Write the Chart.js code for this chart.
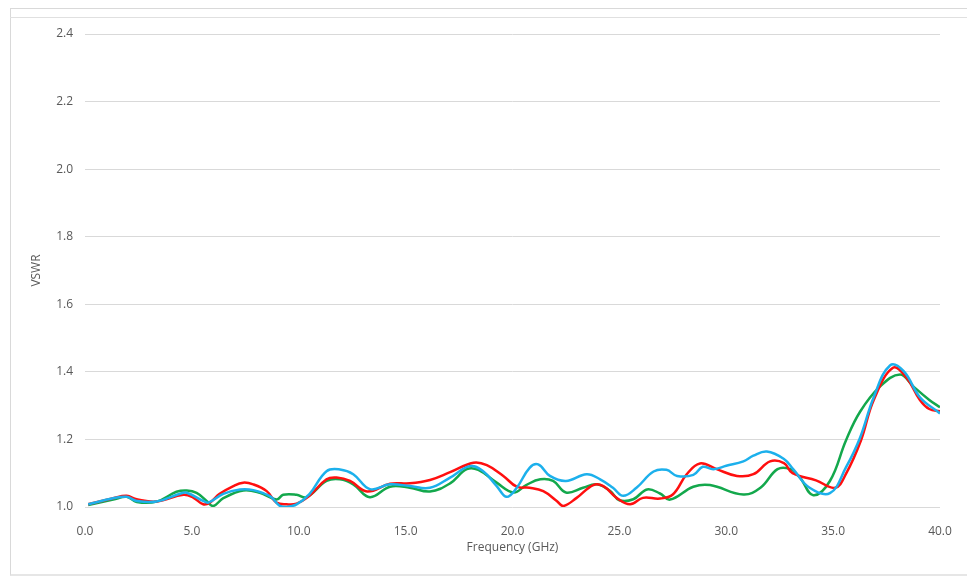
<!DOCTYPE html>
<html>
<head>
<meta charset="utf-8">
<script src="https://cdn.jsdelivr.net/npm/chart.js@4.4.1/dist/chart.umd.min.js"></script>
<style>
  html, body { margin: 0; padding: 0; background: #fff; }
  #frame { position: absolute; left: 10px; top: 8px; width: 970px; height: 565px;
           border-top: 1px solid #d9d9d9; border-left: 1px solid #d9d9d9; border-bottom: 2px solid #e6e6e6; }
  #band { position: absolute; left: 10px; top: 17px; width: 970px; border-top: 1px solid #e0e0e0; }
  #wrap { position: absolute; left: 0; top: 0; width: 967px; height: 577px; }
</style>
</head>
<body>
<div id="frame"></div>
<div id="band"></div>
<div id="wrap"><canvas id="vswrChart" width="967" height="577"></canvas></div>
<script>
// Frequencia (GHz) e VSWR, uma lista por curva
const freqAzul = [0.15, 1.32, 1.95, 2.42, 3.35, 4.44, 4.76, 5.53, 5.77, 6.47, 7.25, 7.87, 8.65, 9.12, 9.43, 9.9, 10.5, 11.3, 11.93, 12.55, 13.33, 14.27, 15.2, 16.14, 17.08, 18.0, 18.6, 19.26, 19.73, 20.2, 20.8, 21.2, 21.75, 22.5, 23.47, 24.1, 24.7, 25.18, 25.8, 26.6, 27.2, 27.7, 28.46, 28.9, 29.4, 30.0, 30.8, 31.27, 31.9, 32.7, 33.13, 33.9, 34.85, 35.6, 36.26, 36.9, 37.66, 38.3, 39.06, 40.0];
const vswrAzul = [1.008, 1.026, 1.03, 1.018, 1.016, 1.039, 1.042, 1.018, 1.013, 1.039, 1.052, 1.05, 1.032, 1.003, 1.0, 1.008, 1.038, 1.106, 1.111, 1.097, 1.053, 1.067, 1.062, 1.057, 1.087, 1.121, 1.107, 1.062, 1.030, 1.057, 1.116, 1.126, 1.092, 1.077, 1.097, 1.082, 1.057, 1.033, 1.057, 1.105, 1.11, 1.092, 1.095, 1.119, 1.112, 1.122, 1.135, 1.152, 1.164, 1.142, 1.112, 1.057, 1.041, 1.117, 1.205, 1.325, 1.419, 1.402, 1.325, 1.277];

const freqVermelho = [0.15, 1.32, 1.95, 2.42, 3.35, 4.6, 5.06, 5.53, 5.84, 6.3, 6.94, 7.4, 7.87, 8.5, 8.96, 9.43, 9.9, 10.5, 11.3, 11.77, 12.4, 13.2, 14.27, 15.2, 16.14, 17.08, 18.17, 18.8, 19.57, 20.2, 20.8, 21.44, 22.07, 22.38, 23.0, 23.78, 24.25, 24.87, 25.5, 26.1, 26.9, 27.5, 28.15, 28.77, 29.55, 30.5, 31.27, 32.05, 32.7, 33.1, 34.2, 35.1, 35.6, 36.3, 36.9, 37.8, 38.44, 39.06, 39.5, 40.0];
const vswrVermelho = [1.008, 1.026, 1.033, 1.023, 1.016, 1.036, 1.028, 1.008, 1.013, 1.039, 1.062, 1.072, 1.067, 1.047, 1.013, 1.008, 1.01, 1.033, 1.082, 1.087, 1.077, 1.046, 1.069, 1.07, 1.08, 1.103, 1.131, 1.124, 1.092, 1.06, 1.057, 1.047, 1.018, 1.003, 1.027, 1.065, 1.062, 1.027, 1.008, 1.027, 1.025, 1.037, 1.097, 1.129, 1.112, 1.092, 1.097, 1.135, 1.13, 1.10, 1.079, 1.057, 1.098, 1.197, 1.317, 1.412, 1.382, 1.317, 1.29, 1.283];

const freqVerde = [0.15, 1.32, 1.95, 2.42, 3.35, 4.28, 4.76, 5.22, 5.69, 6.0, 6.47, 7.4, 8.18, 8.96, 9.27, 9.9, 10.37, 11.3, 11.93, 12.55, 13.33, 14.27, 15.2, 16.14, 17.08, 17.86, 18.4, 19.26, 20.05, 20.64, 21.3, 21.9, 22.5, 23.3, 23.93, 24.56, 25.0, 25.65, 26.3, 26.9, 27.37, 28.46, 29.24, 30.8, 31.6, 32.4, 33.0, 33.45, 34.07, 34.85, 35.6, 36.26, 37.2, 38.13, 38.75, 39.5, 40.0];
const vswrVerde = [1.006, 1.022, 1.03, 1.015, 1.016, 1.045, 1.049, 1.042, 1.018, 1.003, 1.026, 1.049, 1.042, 1.022, 1.036, 1.036, 1.029, 1.077, 1.082, 1.067, 1.029, 1.06, 1.057, 1.046, 1.07, 1.112, 1.11, 1.072, 1.043, 1.065, 1.082, 1.077, 1.043, 1.057, 1.067, 1.048, 1.02, 1.023, 1.052, 1.04, 1.022, 1.06, 1.065, 1.037, 1.057, 1.112, 1.112, 1.087, 1.035, 1.077, 1.197, 1.282, 1.357, 1.392, 1.357, 1.317, 1.295];

// Eixos
const yMin = 1.0, yMax = 2.4, yStep = 0.2;
const xMin = 0, xMax = 40, xStep = 5;

const pontos = (fs, vs) => fs.map((f, i) => ({ x: f, y: vs[i] }));

const fonte = { family: 'Open Sans', size: 12 };

const ctx = document.getElementById('vswrChart').getContext('2d');
new Chart(ctx, {
  type: 'line',
  data: {
    datasets: [
      { label: 'Azul', data: pontos(freqAzul, vswrAzul), borderColor: '#1cb0ec' },
      { label: 'Vermelho', data: pontos(freqVermelho, vswrVermelho), borderColor: '#ff0f0f' },
      { label: 'Verde', data: pontos(freqVerde, vswrVerde), borderColor: '#13a84c' }
    ].map(d => Object.assign(d, { borderWidth: 2.5, pointRadius: 0, tension: 0.4, fill: false }))
  },
  options: {
    responsive: false,
    animation: false,
    layout: { padding: { left: 25, right: 27, top: 34, bottom: 18 } },
    plugins: { legend: { display: false }, tooltip: { enabled: false } },
    scales: {
      x: {
        type: 'linear', min: xMin, max: xMax,
        grid: { display: false },
        border: { display: false },
        ticks: { stepSize: xStep, padding: 9, color: '#595959', font: fonte, maxRotation: 0,
                 callback: v => v.toFixed(1) },
        title: { display: true, text: 'Frequency (GHz)', color: '#595959', font: fonte, padding: { top: 8 } },
        afterFit: s => { s.height = 52; }
      },
      y: {
        min: yMin, max: yMax,
        grid: { color: '#d9d9d9', drawTicks: false },
        border: { display: false },
        ticks: { stepSize: yStep, padding: 12, color: '#595959', font: fonte,
                 callback: v => v.toFixed(1) },
        title: { display: true, text: 'VSWR', color: '#595959', font: fonte },
        afterFit: s => { s.width = 60; }
      }
    }
  }
});
</script>
</body>
</html>
